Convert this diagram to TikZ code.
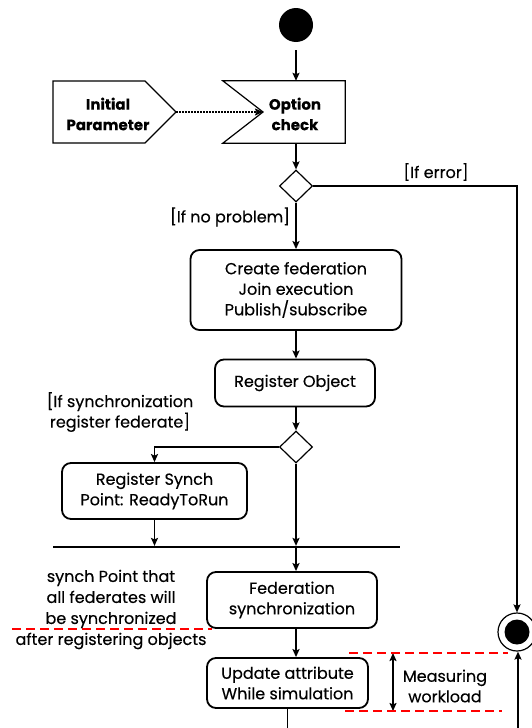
\documentclass[tikz,border=0pt]{standalone}
\usepackage{fontspec}
\setmainfont{Poppins}[FakeBold=0.3]
\newfontfamily\boldfam{Poppins}[UprightFont=*-Bold]
\usetikzlibrary{arrows.meta,shapes.geometric}
\begin{document}
\begin{tikzpicture}[x=1pt,y=-1pt,
  line/.style={line width=1.6pt},
  arr/.style={line width=1.6pt,-{Stealth[length=8pt,width=7pt,inset=1.5pt]}},
  dotarr/.style={line width=1.5pt,dash pattern=on 1.5pt off 1.5pt,-{Stealth[length=8pt,width=7pt,inset=1.5pt]}},
  dblarr/.style={line width=1.6pt,{Stealth[length=8pt,width=7pt,inset=1.5pt]}-{Stealth[length=8pt,width=7pt,inset=1.5pt]}},
  txt/.style={font=\fontsize{16}{20.5}\selectfont},
  box/.style={draw,line width=1.8pt,rounded corners=9pt,inner sep=0pt,align=center,txt},
  lbl/.style={align=center,inner sep=0pt,txt},
  bold/.style={align=center,inner sep=0pt,font=\bfseries\fontsize{15}{20.5}\selectfont},
  redline/.style={red,line width=1.8pt,dash pattern=on 9pt off 5pt},
  dia/.style={draw,diamond,line width=1.2pt,inner sep=0pt,minimum width=33pt,minimum height=32pt},
  shp/.style={draw,line width=1.2pt,line join=miter},
]
\useasboundingbox (0,0) rectangle (531,728);

% start
\node[circle,fill,inner sep=0pt,minimum size=34pt] (start) at (296,25) {};

% Initial parameter
\coordinate (ipTip) at (176,112);
\draw[shp] (53,81) -- (145,81) -- (ipTip) -- (145,143) -- (53,143) -- cycle;
\node[bold] (ip) at (108,114) {Initial\\Parameter};

% Option check
\node[inner sep=0pt,minimum width=122pt,minimum height=62pt] (ocbox) at (284,112) {};
\coordinate (ocNotch) at (263,112);
\draw[shp] (ocbox.north west) -- (ocbox.north east) -- (ocbox.south east) -- (ocbox.south west) -- (ocNotch) -- cycle;
\node[bold] (oc) at (295,114) {Option\\check};

% decisions
\node[dia] (d1) at (296,186) {};
\node[dia] (d2) at (296,447) {};

% boxes
\node[box,minimum width=211pt,minimum height=80pt] (cf) at (296,290) {Create federation\\Join execution\\Publish/subscribe};
\node[box,minimum width=160pt,minimum height=47pt] (ro) at (295,383) {Register Object};
\node[box,minimum width=185pt,minimum height=56pt] (rs) at (154.5,491) {Register Synch\\Point: ReadyToRun};
\node[inner sep=0pt,minimum width=347pt,minimum height=1.8pt,fill] (bar) at (226.5,547) {};
\node[box,minimum width=170pt,minimum height=56pt] (fs) at (292,600) {Federation\\synchronization};
\node[box,minimum width=161pt,minimum height=50pt] (ua) at (287.5,683) {Update attribute\\While simulation};

% final
\node[circle,draw,line width=1.2pt,minimum size=38pt,inner sep=0pt] (fin) at (517,632) {};
\node[circle,fill,minimum size=25pt,inner sep=0pt] (finin) at (fin.center) {};

% connectors
\draw[arr,shorten <=8pt] (start) -- (start |- ocbox.north);
\draw[dotarr] (ipTip) -- (ocNotch);
\draw[arr] (start |- ocbox.south) -- (d1.north);
\draw[arr] (d1.east) -| (fin.north);
\draw[arr] (d1.south) -- (cf.north);
\draw[arr] (cf.south) -- (cf.south |- ro.north);
\draw[arr] (cf.south |- ro.south) -- (d2.north);
\draw[arr] (d2.west) -| (rs.north);
\draw[arr] (d2.south) -- (d2.south |- bar.north);
\draw[arr] (rs.south) -- (rs.south |- bar.north);
\draw[arr] (bar.south -| d2) -- (fs.north -| d2);
\draw[arr] (fs.south -| d2) -- (ua.north -| d2);
\coordinate (exitL) at (287.5,728);
\coordinate (exitR) at (518,728);
\draw[line] (ua.south) -- (exitL);
\draw[arr] (exitR) -- (exitR |- fin.south);

% measuring
\coordinate (m1) at (393,653);
\coordinate (m2) at (393,711);
\draw[dblarr] (m1) -- (m2);
\draw[redline] (12,629) -- (212,629);
\draw[redline] (349,653) -- (508,653);
\draw[redline] (345,711) -- (502,711);

% labels
\node[lbl] (iferr) at (436,172) {[If error]};
\node[lbl] (ifnp) at (230,217) {[If no problem]};
\node[lbl] (ifsync) at (120,412) {[If synchronization\\register federate]};
\node[lbl,font=\fontsize{16}{21}\selectfont] (note) at (111,609.5) {synch Point that\\all federates will\\be synchronized\\after registering objects};
\node[lbl] (mw) at (445,686) {Measuring\\workload};
\end{tikzpicture}
\end{document}
